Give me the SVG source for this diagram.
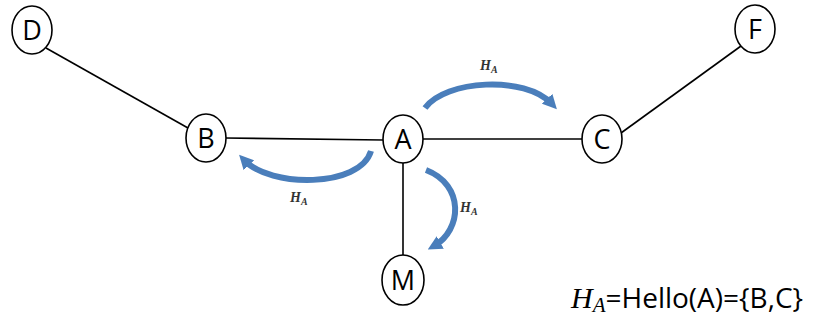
<svg xmlns="http://www.w3.org/2000/svg" width="814" height="321" viewBox="0 0 814 321">
<defs>
<marker id="ah" viewBox="0 0 10 10" refX="5" refY="5" markerWidth="2.4" markerHeight="2.4" orient="auto" markerUnits="strokeWidth">
<path d="M0,0 L10,5 L0,10 z" fill="#4a7ebb"/>
</marker>
<style>
.n{fill:#fff;stroke:#000;stroke-width:1.6}
.t{font-family:"Open Sans","Liberation Sans",Arial,sans-serif;font-size:27px;fill:#000;text-anchor:middle}
.e{stroke:#000;stroke-width:1.6;fill:none}
.a{stroke:#4a7ebb;stroke-width:6;fill:none;marker-end:url(#ah)}
.h{font-family:"Liberation Serif","DejaVu Serif",serif;font-style:italic;font-weight:bold;fill:#333}
</style>
</defs>
<g id="edges">
<line class="e" x1="46" y1="48" x2="188" y2="128"/>
<line class="e" x1="225" y1="138" x2="383" y2="140"/>
<line class="e" x1="422" y1="139" x2="582" y2="139"/>
<line class="e" x1="403" y1="160" x2="403" y2="257"/>
<line class="e" x1="621" y1="133" x2="741" y2="46"/>
</g>
<g id="arrows">
<path class="a" d="M425,108 C445,80 525,75 552,104"/>
<path class="a" d="M371,151 C360,188 270,188 244,160"/>
<path class="a" d="M426,170 C465,185 462,230 434,246"/>
</g>
<g id="labels">
<text class="h" x="480" y="70" font-size="14">H<tspan font-size="10" dy="3">A</tspan></text>
<text class="h" x="290" y="202" font-size="14">H<tspan font-size="10" dy="3">A</tspan></text>
<text class="h" x="460" y="212" font-size="14">H<tspan font-size="10" dy="3">A</tspan></text>
</g>
<g id="D"><ellipse class="n" cx="32" cy="30" rx="20" ry="24"/><text class="t" x="32" y="40">D</text></g>
<g id="B"><ellipse class="n" cx="206" cy="138" rx="20" ry="24"/><text class="t" x="206" y="148">B</text></g>
<g id="A"><ellipse class="n" cx="403" cy="139" rx="20" ry="24"/><text class="t" x="403" y="149">A</text></g>
<g id="C"><ellipse class="n" cx="602" cy="139" rx="20" ry="24"/><text class="t" x="602" y="149">C</text></g>
<g id="F"><ellipse class="n" cx="755" cy="29" rx="20" ry="24"/><text class="t" x="755" y="39">F</text></g>
<g id="M"><ellipse class="n" cx="403" cy="280" rx="21" ry="25"/><text class="t" x="403" y="290">M</text></g>
<g id="formula">
<text x="571" y="308" font-family="Open Sans,Liberation Sans,Arial,sans-serif" font-size="28" fill="#000"><tspan font-family="Liberation Serif,serif" font-style="italic" font-size="30">H</tspan><tspan font-family="Liberation Serif,serif" font-style="italic" font-size="21" dy="4">A</tspan><tspan dy="-4">=Hello(A)={B,C}</tspan></text>
</g>
</svg>
